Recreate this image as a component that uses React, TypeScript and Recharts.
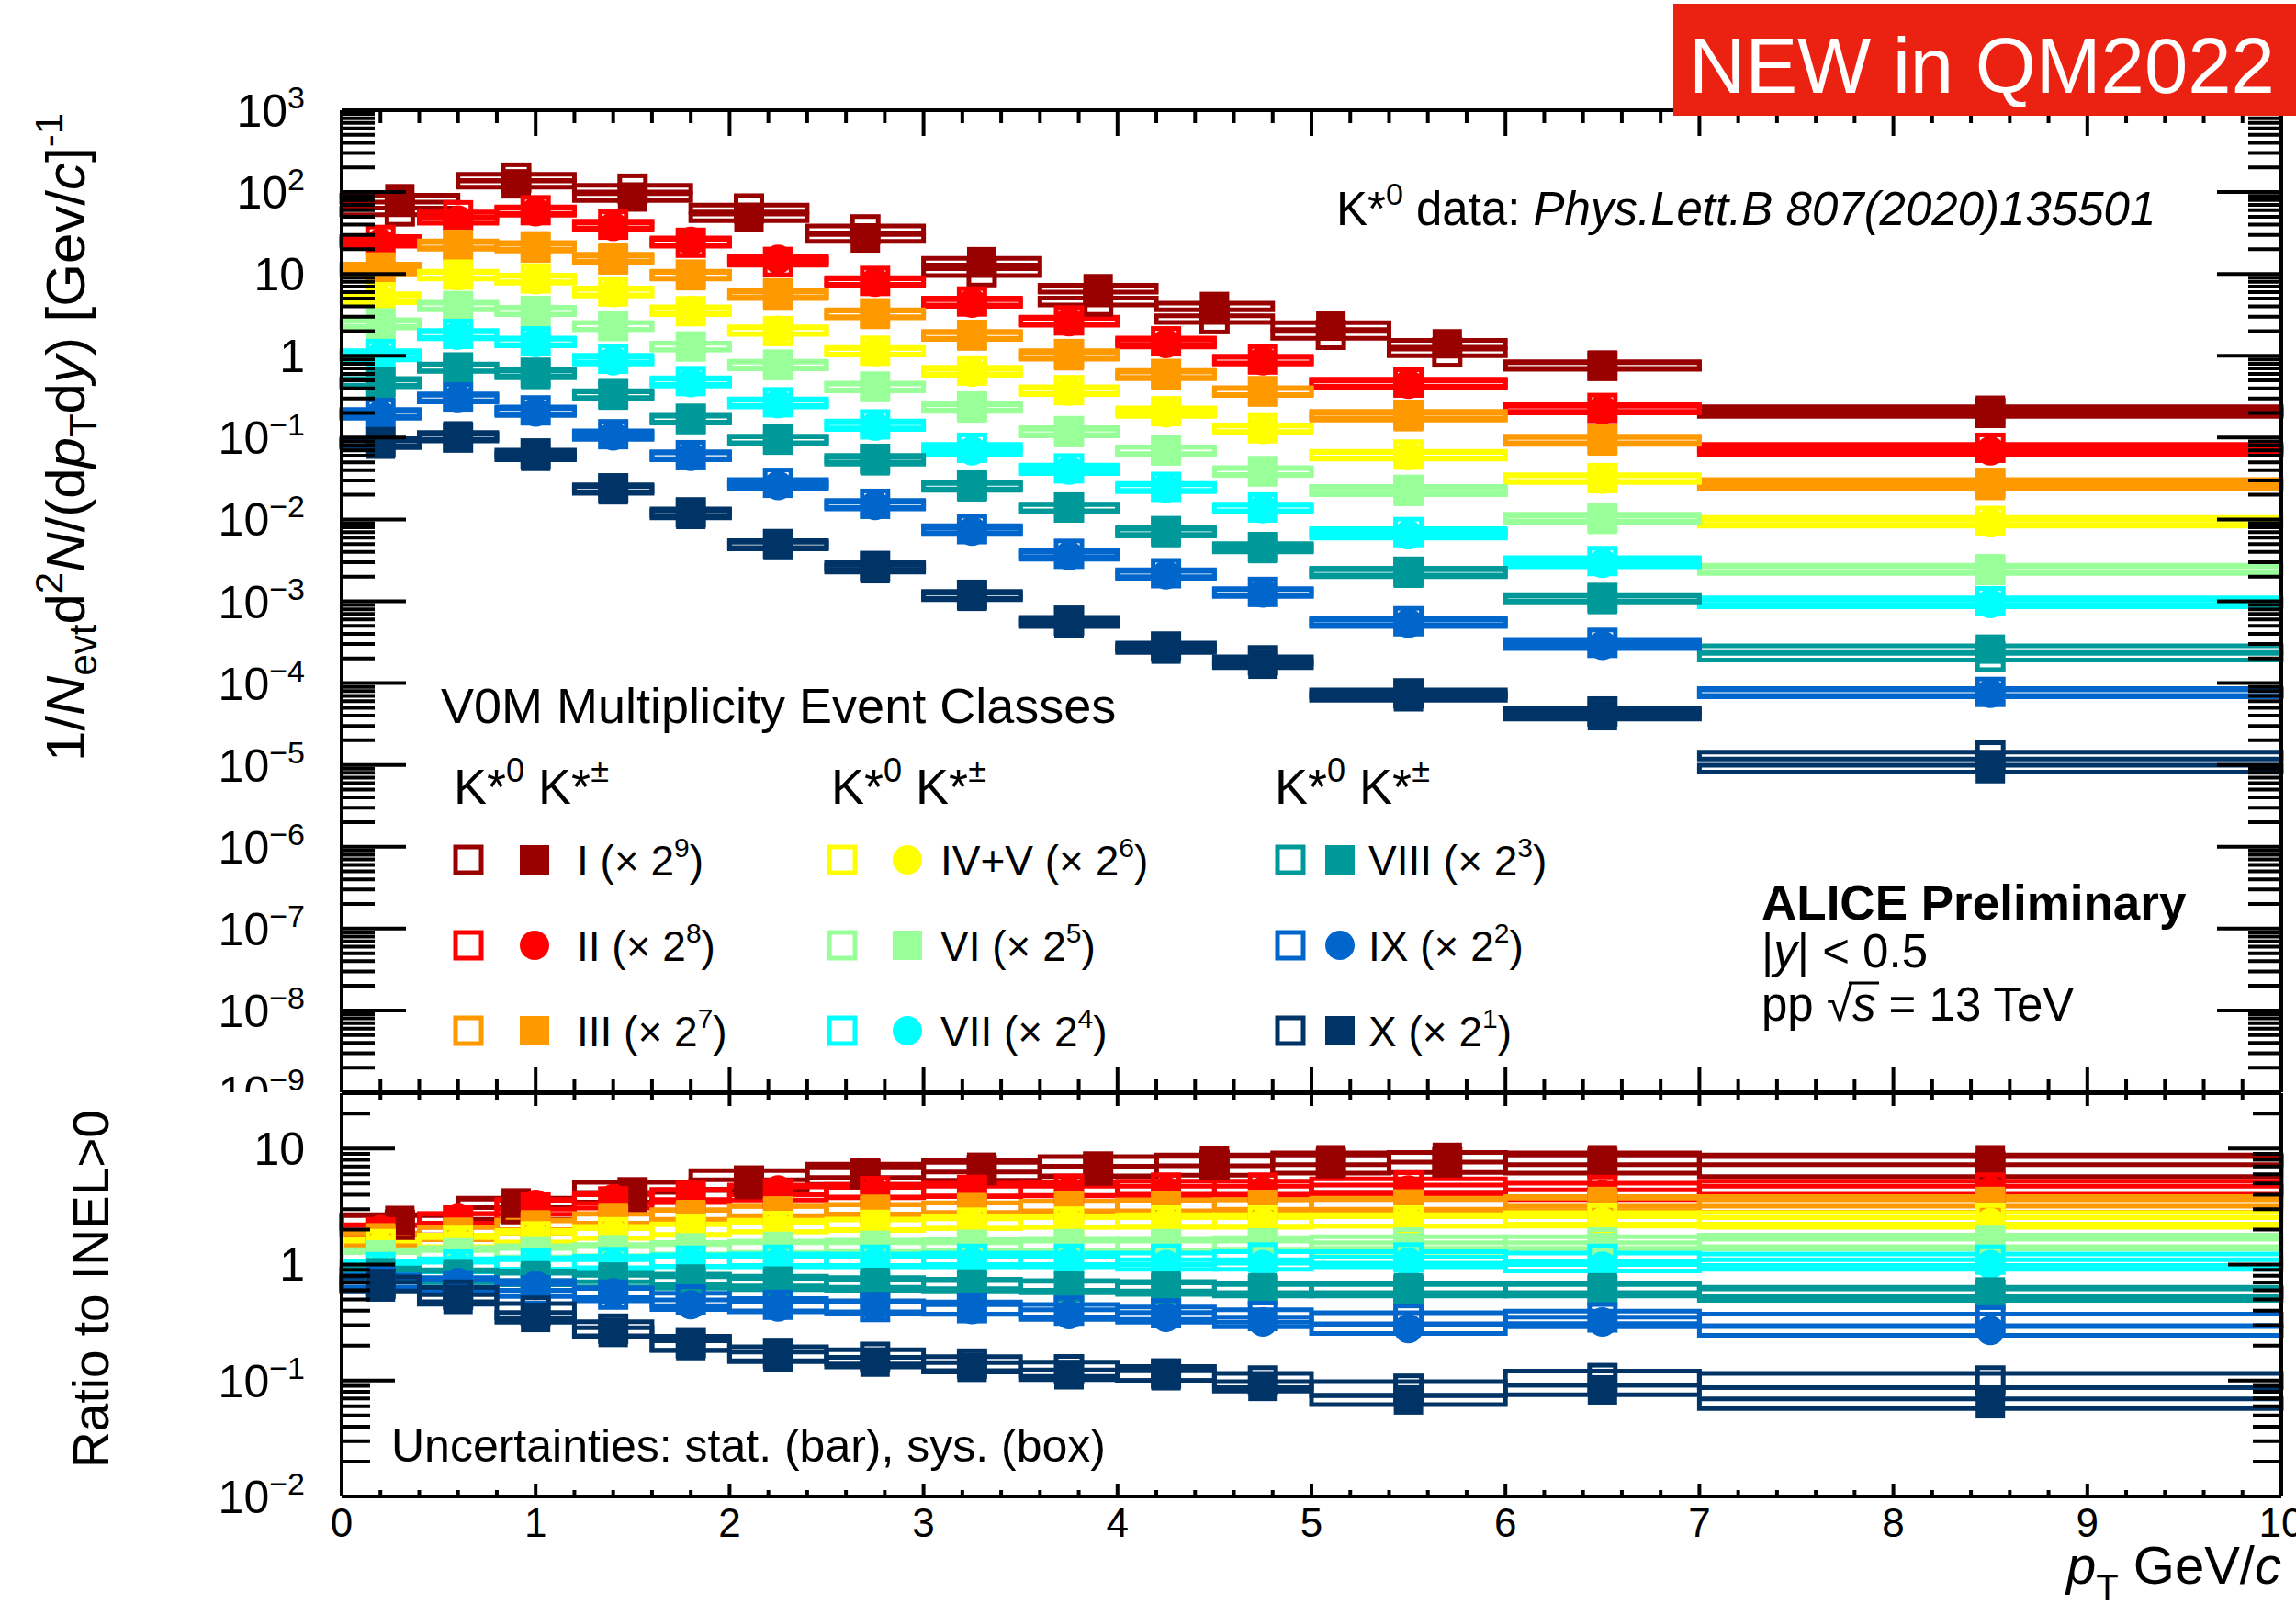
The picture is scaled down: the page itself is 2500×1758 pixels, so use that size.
import React from 'react';
import { ComposedChart, XAxis, YAxis, Scatter, ReferenceArea } from 'recharts';

const FONT = '"Liberation Sans", Arial, Helvetica, sans-serif';

// ---- multiplicity classes ----
const classLabels = ['I', 'II', 'III', 'IV+V', 'VI', 'VII', 'VIII', 'IX', 'X'];
const classColors = ['#990000', '#FF0000', '#FF9900', '#FFFF00', '#99FF99', '#00FFFF', '#009999', '#0066CC', '#003366'];
const scalePowers = [9, 8, 7, 6, 5, 4, 3, 2, 1];
const chargedMarkers = ['square', 'circle', 'square', 'circle', 'square', 'circle', 'square', 'circle', 'square'];

// ---- pT binning (GeV/c) ----
const binEdgesClassI = [0, 0.6, 1.2, 1.8, 2.4, 3.0, 3.6, 4.2, 4.8, 5.4, 6.0, 7.0, 10.0];
const binCentersClassI = [0.3, 0.9, 1.5, 2.1, 2.7, 3.3, 3.9, 4.5, 5.1, 5.7, 6.5, 8.5];
const binEdges = [0, 0.4, 0.8, 1.2, 1.6, 2.0, 2.5, 3.0, 3.5, 4.0, 4.5, 5.0, 6.0, 7.0, 10.0];
const binCenters = [0.2, 0.6, 1.0, 1.4, 1.8, 2.25, 2.75, 3.25, 3.75, 4.25, 4.75, 5.5, 6.5, 8.5];

// ---- K*± spectra (scaled) ----
const specChargedI = [83, 126, 87, 49, 27.5, 14.1, 6.6, 4.0, 2.3, 1.4, 0.77, 0.216];
const specChargedII = [24, 45.7, 57.5, 38, 25, 15.1, 7.9, 4.4, 2.6, 1.41, 0.87, 0.45, 0.22, 0.069];
const specChargedIII = [11, 23, 22, 15.8, 9.5, 5.5, 3.2, 1.74, 1.0, 0.575, 0.36, 0.18, 0.091, 0.026];
const specChargedIVV = [4.9, 9.5, 8.5, 5.9, 3.6, 2.05, 1.12, 0.63, 0.37, 0.2, 0.126, 0.06, 0.031, 0.0091];
const specChargedVI = [2.4, 4.1, 3.55, 2.3, 1.29, 0.76, 0.41, 0.23, 0.115, 0.069, 0.038, 0.022, 0.01, 0.0025];
const specChargedVII = [0.98, 1.78, 1.45, 0.87, 0.47, 0.26, 0.138, 0.069, 0.04, 0.024, 0.0135, 0.0065, 0.0029, 0.00094];
const specChargedVIII = [0.46, 0.71, 0.59, 0.33, 0.166, 0.093, 0.052, 0.025, 0.0138, 0.0069, 0.0044, 0.0022, 0.00105, 0.00026];
const specChargedIX = [0.19, 0.3, 0.205, 0.105, 0.059, 0.026, 0.0148, 0.0072, 0.0036, 0.0021, 0.00126, 0.00054, 0.00029, 0.000075];
const specChargedX = [0.083, 0.105, 0.059, 0.023, 0.0115, 0.0048, 0.0025, 0.00115, 0.00054, 0.00026, 0.00017, 0.000068, 0.00004, 0.000009];

// ---- K*0 spectra (scaled) ----
const specNeutralI = [58, 150, 110, 63, 35, 10.5, 4.6, 2.8, 1.8, 1.1, 0.75, 0.2];
const specNeutralII = [26, 52, 60, 40, 24, 14, 8.2, 4.6, 2.7, 1.5, 0.9, 0.47, 0.23, 0.075];
const specNeutralIII = [12, 22, 21, 15, 9.8, 5.8, 3.3, 1.8, 1.05, 0.6, 0.37, 0.19, 0.095, 0.028];
const specNeutralIVV = [5.2, 9.8, 8.8, 6.1, 3.5, 2.0, 1.15, 0.66, 0.38, 0.21, 0.13, 0.062, 0.032, 0.0096];
const specNeutralVI = [2.5, 4.0, 3.5, 2.3, 1.3, 0.78, 0.42, 0.24, 0.12, 0.07, 0.039, 0.023, 0.0105, 0.0024];
const specNeutralVII = [1.05, 1.85, 1.5, 0.92, 0.49, 0.27, 0.145, 0.075, 0.042, 0.025, 0.014, 0.007, 0.0031, 0.001];
const specNeutralVIII = [0.48, 0.72, 0.62, 0.34, 0.17, 0.095, 0.055, 0.026, 0.014, 0.0072, 0.0046, 0.0023, 0.0011, 0.00021];
const specNeutralIX = [0.2, 0.31, 0.215, 0.11, 0.061, 0.028, 0.0155, 0.0076, 0.0038, 0.0022, 0.0013, 0.00057, 0.00031, 0.000078];
const specNeutralX = [0.088, 0.1, 0.064, 0.024, 0.0122, 0.005, 0.0027, 0.0012, 0.00058, 0.00028, 0.00019, 0.000075, 0.000045, 0.000013];

// ---- ratios to INEL>0, K*± ----
const ratioChargedI = [2.4, 3.4, 3.8, 4.9, 6.2, 6.9, 6.4, 7.8, 8.0, 8.4, 8.0, 8.0];
const ratioChargedII = [2.0, 2.5, 3.3, 3.7, 4.0, 4.4, 4.2, 4.3, 4.3, 4.3, 4.3, 4.4, 4.0, 4.3];
const ratioChargedIII = [1.7, 1.9, 2.2, 2.5, 2.7, 2.9, 3.0, 3.1, 3.2, 3.2, 3.3, 3.3, 3.5, 3.5];
const ratioChargedIVV = [1.45, 1.55, 1.7, 1.85, 2.0, 2.1, 2.2, 2.25, 2.3, 2.3, 2.3, 2.35, 2.35, 2.3];
const ratioChargedVI = [1.15, 1.2, 1.25, 1.3, 1.35, 1.4, 1.4, 1.4, 1.45, 1.45, 1.45, 1.4, 1.4, 1.5];
const ratioChargedVII = [0.92, 0.95, 1.0, 1.0, 1.05, 1.05, 1.05, 1.05, 1.05, 1.0, 1.0, 1.05, 0.97, 1.0];
const ratioChargedVIII = [0.85, 0.82, 0.8, 0.78, 0.75, 0.72, 0.7, 0.68, 0.66, 0.65, 0.63, 0.63, 0.63, 0.58];
const ratioChargedIX = [0.7, 0.7, 0.66, 0.57, 0.45, 0.43, 0.43, 0.41, 0.37, 0.35, 0.32, 0.28, 0.32, 0.27];
const ratioChargedX = [0.64, 0.5, 0.35, 0.26, 0.2, 0.16, 0.144, 0.13, 0.112, 0.11, 0.089, 0.068, 0.083, 0.063];

// ---- ratios to INEL>0, K*0 ----
const ratioNeutralI = [2.2, 3.0, 4.2, 5.3, 6.0, 6.5, 7.0, 7.2, 7.5, 7.6, 7.5, 7.0];
const ratioNeutralII = [1.9, 2.4, 3.1, 3.5, 3.9, 4.1, 4.3, 4.4, 4.5, 4.6, 4.6, 4.8, 4.4, 4.6];
const ratioNeutralIII = [1.65, 1.85, 2.1, 2.4, 2.6, 2.8, 2.9, 3.0, 3.1, 3.2, 3.2, 3.3, 3.3, 3.2];
const ratioNeutralIVV = [1.5, 1.6, 1.75, 1.9, 2.0, 2.15, 2.2, 2.3, 2.35, 2.4, 2.4, 2.4, 2.5, 2.5];
const ratioNeutralVI = [1.2, 1.25, 1.3, 1.33, 1.38, 1.42, 1.45, 1.48, 1.5, 1.5, 1.52, 1.55, 1.55, 1.6];
const ratioNeutralVII = [0.95, 1.0, 1.02, 1.05, 1.08, 1.1, 1.1, 1.12, 1.12, 1.12, 1.15, 1.15, 1.12, 1.1];
const ratioNeutralVIII = [0.8, 0.78, 0.75, 0.72, 0.7, 0.68, 0.66, 0.65, 0.64, 0.62, 0.6, 0.6, 0.6, 0.55];
const ratioNeutralIX = [0.72, 0.66, 0.6, 0.55, 0.5, 0.45, 0.43, 0.42, 0.4, 0.38, 0.36, 0.34, 0.35, 0.33];
const ratioNeutralX = [0.68, 0.55, 0.4, 0.28, 0.21, 0.17, 0.16, 0.14, 0.125, 0.115, 0.1, 0.085, 0.105, 0.1];

// ---- relative systematic uncertainties (box half-heights) ----
const sysSpectraCharged = [0.1, 0.1, 0.1, 0.1, 0.1, 0.1, 0.1, 0.1, 0.1];
const sysSpectraNeutral = [0.1, 0.1, 0.1, 0.1, 0.1, 0.1, 0.1, 0.1, 0.1];
const sysRatioCharged = [0.1, 0.1, 0.1, 0.1, 0.1, 0.1, 0.1, 0.1, 0.1];
const sysRatioNeutral = [0.22, 0.14, 0.13, 0.12, 0.12, 0.12, 0.12, 0.13, 0.15];

const spectraCharged = [specChargedI, specChargedII, specChargedIII, specChargedIVV, specChargedVI, specChargedVII, specChargedVIII, specChargedIX, specChargedX];
const spectraNeutral = [specNeutralI, specNeutralII, specNeutralIII, specNeutralIVV, specNeutralVI, specNeutralVII, specNeutralVIII, specNeutralIX, specNeutralX];
const ratiosCharged = [ratioChargedI, ratioChargedII, ratioChargedIII, ratioChargedIVV, ratioChargedVI, ratioChargedVII, ratioChargedVIII, ratioChargedIX, ratioChargedX];
const ratiosNeutral = [ratioNeutralI, ratioNeutralII, ratioNeutralIII, ratioNeutralIVV, ratioNeutralVI, ratioNeutralVII, ratioNeutralVIII, ratioNeutralIX, ratioNeutralX];

const edgesFor = (c: number) => (c === 0 ? binEdgesClassI : binEdges);
const centersFor = (c: number) => (c === 0 ? binCentersClassI : binCenters);

// ---- axis ticks ----
function logTicks(minExp: number, maxExp: number, maxVal: number) {
  const out: number[] = [];
  for (let e = minExp; e <= maxExp; e++) {
    for (let m = 1; m <= 9; m++) {
      const v = Number((m * Math.pow(10, e)).toPrecision(4));
      if (v <= maxVal * 1.0001) out.push(v);
    }
  }
  return out;
}
const topYTicks = logTicks(-9, 3, 1000);
const bottomYTicks = logTicks(-2, 1, 30);
const xTicks = Array.from({ length: 51 }, (_, i) => Number((i * 0.2).toFixed(1)));

const isDecade = (v: number) => {
  const e = Math.round(Math.log10(v));
  return Math.abs(v / Math.pow(10, e) - 1) < 1e-6;
};
const isInteger = (v: number) => Math.abs(v - Math.round(v)) < 1e-6;

const AXIS_STROKE = 4;

function LogLabel({ x, y, v }: { x: number; y: number; v: number }) {
  const e = Math.round(Math.log10(v));
  const common = { x, y: y + 18, textAnchor: 'end' as const, fontSize: 50, fontFamily: FONT, fill: '#000' };
  if (e === 0) return <text {...common}>1</text>;
  if (e === 1) return <text {...common}>10</text>;
  return (
    <text {...common}>
      10<tspan dy={-20} fontSize={34}>{e < 0 ? '\u2212' + -e : String(e)}</tspan>
    </text>
  );
}

const yTick = (majorLen: number, minorLen: number, dir: number, labels: boolean) => (p: any) => {
  const v = p.payload.value;
  const major = isDecade(v);
  const len = major ? majorLen : minorLen;
  return (
    <g>
      <line x1={p.x} x2={p.x + dir * len} y1={p.y} y2={p.y} stroke="#000" strokeWidth={AXIS_STROKE} />
      {labels && major ? <LogLabel x={p.x - 40} y={p.y} v={v} /> : null}
    </g>
  );
};

// bottom-axis tick: draws the inward tick at the bottom frame, the mirrored
// tick hanging from the top frame (at plotTop), and the optional label
const xTick = (majorLen: number, minorLen: number, plotTop: number, labels: boolean) => (p: any) => {
  const v = p.payload.value;
  const major = isInteger(v);
  const len = major ? majorLen : minorLen;
  return (
    <g>
      <line x1={p.x} x2={p.x} y1={p.y} y2={p.y - len} stroke="#000" strokeWidth={AXIS_STROKE} />
      <line x1={p.x} x2={p.x} y1={plotTop} y2={plotTop + len} stroke="#000" strokeWidth={AXIS_STROKE} />
      {labels && major ? (
        <text x={p.x} y={p.y + 44} textAnchor="middle" fontSize={44} fontFamily={FONT} fill="#000">
          {Math.round(v)}
        </text>
      ) : null}
    </g>
  );
};

function Marker({ kind, cx, cy, color }: { kind: string; cx: number; cy: number; color: string }) {
  if (cx == null || cy == null) return null;
  if (kind === 'open')
    return <rect x={cx - 14} y={cy - 14} width={28} height={28} fill="none" stroke={color} strokeWidth={5} />;
  if (kind === 'square') return <rect x={cx - 16} y={cy - 16} width={32} height={32} fill={color} />;
  return <circle cx={cx} cy={cy} r={16} fill={color} />;
}

type PanelProps = {
  height: number;
  topAxisH: number;
  bottomAxisH: number;
  yDomain: [number, number];
  yTicks: number[];
  xMajor: number;
  xMinor: number;
  yMajor: number;
  yMinor: number;
  xLabels: boolean;
  charged: number[][];
  neutral: number[][];
  sysCh: number[];
  sysN: number[];
  tag: string;
};

function Panel(props: PanelProps) {
  const { height, topAxisH, bottomAxisH, yDomain, yTicks, xMajor, xMinor, yMajor, yMinor, xLabels, charged, neutral, sysCh, sysN, tag } = props;

  const boxes: React.ReactNode[] = [];
  const markers: React.ReactNode[] = [];
  classLabels.forEach((_, c) => {
    const edges = edgesFor(c);
    const centers = centersFor(c);
    const color = classColors[c];
    [
      { vals: neutral[c], sys: sysN[c], kind: 'open', sp: 'n' },
      { vals: charged[c], sys: sysCh[c], kind: chargedMarkers[c], sp: 'c' },
    ].forEach(({ vals, sys, kind, sp }) => {
      vals.forEach((v, i) => {
        boxes.push(
          <ReferenceArea
            key={`${tag}-box-${c}-${sp}-${i}`}
            xAxisId="b"
            yAxisId="l"
            x1={edges[i]}
            x2={edges[i + 1]}
            y1={v / (1 + sys)}
            y2={v * (1 + sys)}
            fill="none"
            fillOpacity={0}
            stroke={color}
            strokeWidth={5}
          />
        );
      });
      const pts = vals.map((v, i) => ({ x: centers[i], y: v }));
      markers.push(
        <Scatter
          key={`${tag}-pts-${c}-${sp}`}
          name={`${classLabels[c]}-${sp}`}
          data={pts}
          xAxisId="b"
          yAxisId="l"
          isAnimationActive={false}
          shape={(p: any) => <Marker kind={kind} cx={p.cx} cy={p.cy} color={color} />}
        />
      );
    });
  });

  return (
    <ComposedChart width={2500} height={height} margin={{ top: 0, right: 0, bottom: 0, left: 0 }}>
      <XAxis
        xAxisId="b"
        type="number"
        dataKey="x"
        orientation="bottom"
        domain={[0, 10]}
        allowDataOverflow
        ticks={xTicks}
        interval={0}
        height={bottomAxisH}
        tickSize={0}
        tickMargin={0}
        tickLine={false}
        axisLine={{ stroke: '#000', strokeWidth: AXIS_STROKE }}
        tick={xTick(xMajor, xMinor, topAxisH, xLabels)}
      />
      <XAxis
        xAxisId="t"
        type="number"
        orientation="top"
        domain={[0, 10]}
        allowDataOverflow
        ticks={[0, 10]}
        height={topAxisH}
        tickSize={0}
        tickMargin={0}
        tickLine={false}
        axisLine={{ stroke: '#000', strokeWidth: AXIS_STROKE }}
        tick={false}
      />
      <YAxis
        yAxisId="l"
        type="number"
        dataKey="y"
        scale="log"
        domain={yDomain}
        allowDataOverflow
        ticks={yTicks}
        interval={0}
        width={372}
        tickSize={0}
        tickMargin={0}
        tickLine={false}
        axisLine={{ stroke: '#000', strokeWidth: AXIS_STROKE }}
        tick={yTick(yMajor, yMinor, 1, true)}
      />
      <YAxis
        yAxisId="r"
        type="number"
        orientation="right"
        scale="log"
        domain={yDomain}
        allowDataOverflow
        ticks={yTicks}
        interval={0}
        width={16}
        tickSize={0}
        tickMargin={0}
        tickLine={false}
        axisLine={{ stroke: '#000', strokeWidth: AXIS_STROKE }}
        tick={yTick(yMajor, yMinor, -1, false)}
      />
      {boxes}
      {markers}
    </ComposedChart>
  );
}

// ---- legend layout ----
const legendColumns = [
  { headerX: 494, openX: 510, fillX: 582, labelX: 628, classes: [0, 1, 2] },
  { headerX: 905, openX: 917, fillX: 988, labelX: 1024, classes: [3, 4, 5] },
  { headerX: 1388, openX: 1405, fillX: 1459, labelX: 1490, classes: [6, 7, 8] },
];
const legendRows = [936, 1029, 1122];

function KHeader({ x, y }: { x: number; y: number }) {
  return (
    <text x={x} y={y} fontSize={54} fontFamily={FONT} fill="#000">
      K*<tspan dy={-24} fontSize={36}>0</tspan>
      <tspan dy={24}> K*</tspan>
      <tspan dy={-24} fontSize={36}>±</tspan>
    </text>
  );
}

function Annotations() {
  return (
    <svg width={2500} height={1758} style={{ position: 'absolute', left: 0, top: 0, pointerEvents: 'none' }} fontFamily={FONT}>
      {/* conference tag */}
      <rect x={1822} y={4} width={678} height={122} fill="#EB2211" />
      <text x={1839} y={101} fontSize={85} fill="#fff">NEW in QM2022</text>

      <text x={1455} y={245} fontSize={51} fill="#000">
        K*<tspan dy={-22} fontSize={34}>0</tspan>
        <tspan dy={22}> data: </tspan>
        <tspan fontStyle="italic">Phys.Lett.B 807(2020)135501</tspan>
      </text>

      {/* legend */}
      <text x={480} y={787} fontSize={54} fill="#000">V0M Multiplicity Event Classes</text>
      {legendColumns.map((col, ci) => (
        <g key={`col-${ci}`}>
          <KHeader x={col.headerX} y={875} />
          {col.classes.map((c, ri) => {
            const cy = legendRows[ri];
            return (
              <g key={`leg-${c}`}>
                <Marker kind="open" cx={col.openX} cy={cy} color={classColors[c]} />
                <Marker kind={chargedMarkers[c]} cx={col.fillX} cy={cy} color={classColors[c]} />
                <text x={col.labelX} y={cy + 17} fontSize={46} fill="#000">
                  {classLabels[c]} (× 2<tspan dy={-20} fontSize={30}>{scalePowers[c]}</tspan>
                  <tspan dy={20}>)</tspan>
                </text>
              </g>
            );
          })}
        </g>
      ))}

      {/* experiment / system */}
      <text x={1918} y={1001} fontSize={53} fontWeight="bold" fill="#000">ALICE Preliminary</text>
      <text x={1918} y={1053} fontSize={51} fill="#000">
        |<tspan fontStyle="italic">y</tspan>| &lt; 0.5
      </text>
      <text x={1918} y={1111} fontSize={51} fill="#000">
        pp √<tspan fontStyle="italic">s</tspan> = 13 TeV
      </text>
      <line x1={2013} x2={2046} y1={1070} y2={1070} stroke="#000" strokeWidth={3} />

      <text x={426} y={1591} fontSize={50} fill="#000">Uncertainties: stat. (bar), sys. (box)</text>

      {/* axis titles */}
      <text transform="translate(92,476) rotate(-90)" textAnchor="middle" fontSize={60} fill="#000">
        1/<tspan fontStyle="italic">N</tspan>
        <tspan dy={13} fontSize={42}>evt</tspan>
        <tspan dy={-13}>d</tspan>
        <tspan dy={-24} fontSize={42}>2</tspan>
        <tspan dy={24} fontStyle="italic">N</tspan>
        <tspan>/(d</tspan>
        <tspan fontStyle="italic">p</tspan>
        <tspan dy={13} fontSize={42}>T</tspan>
        <tspan dy={-13}>d</tspan>
        <tspan fontStyle="italic">y</tspan>
        <tspan>) [Gev/</tspan>
        <tspan fontStyle="italic">c</tspan>
        <tspan>]</tspan>
        <tspan dy={-24} fontSize={42}>-1</tspan>
      </text>
      <text transform="translate(118,1403) rotate(-90)" textAnchor="middle" fontSize={55} fill="#000">
        Ratio to INEL&gt;0
      </text>
      <text x={2484} y={1724} textAnchor="end" fontSize={58} fill="#000">
        <tspan fontStyle="italic">p</tspan>
        <tspan dy={18} fontSize={40}>T</tspan>
        <tspan dy={-18}> GeV/</tspan>
        <tspan fontStyle="italic">c</tspan>
      </text>
    </svg>
  );
}

export default function App() {
  return (
    <div style={{ position: 'absolute', left: 0, top: 0, width: 2500, height: 1758, background: '#fff', overflow: 'hidden', fontFamily: FONT }}>
      <div style={{ position: 'absolute', left: 0, top: 0 }}>
        <Panel
          tag="spec"
          height={1190}
          topAxisH={120}
          bottomAxisH={1}
          yDomain={[1e-9, 1e3]}
          yTicks={topYTicks}
          xMajor={28}
          xMinor={14}
          yMajor={70}
          yMinor={36}
          xLabels={false}
          charged={spectraCharged}
          neutral={spectraNeutral}
          sysCh={sysSpectraCharged}
          sysN={sysSpectraNeutral}
        />
      </div>
      <div style={{ position: 'absolute', left: 0, top: 1189, background: '#fff' }}>
        <Panel
          tag="ratio"
          height={569}
          topAxisH={1}
          bottomAxisH={129}
          yDomain={[0.01, 30]}
          yTicks={bottomYTicks}
          xMajor={14}
          xMinor={7}
          yMajor={58}
          yMinor={31}
          xLabels={true}
          charged={ratiosCharged}
          neutral={ratiosNeutral}
          sysCh={sysRatioCharged}
          sysN={sysRatioNeutral}
        />
      </div>
      <Annotations />
    </div>
  );
}
